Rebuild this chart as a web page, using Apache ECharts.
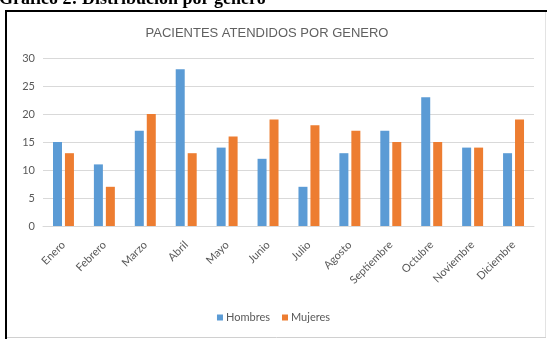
<!DOCTYPE html>
<html>
<head>
<meta charset="utf-8">
<script src="https://cdn.jsdelivr.net/npm/echarts@6/dist/echarts.min.js"></script>
<style>
  html, body { margin: 0; padding: 0; background: #ffffff; }
  #chart { width: 547px; height: 339px; }
</style>
</head>
<body>
<div id="chart"></div>
<script>
// Monthly patients seen, split by gender
const months = ['Enero', 'Febrero', 'Marzo', 'Abril', 'Mayo', 'Junio', 'Julio',
  'Agosto', 'Septiembre', 'Octubre', 'Noviembre', 'Diciembre'];
const hombres = [15, 11, 17, 28, 14, 12, 7, 13, 17, 23, 14, 13];
const mujeres = [13, 7, 20, 13, 16, 19, 18, 17, 15, 15, 14, 19];
const yTicks = [0, 5, 10, 15, 20, 25, 30];

const FONT = 'Lato';
const TEXT_GRAY = '#595959';

const chart = echarts.init(document.getElementById('chart'), null, { renderer: 'canvas' });

chart.setOption({
  animation: false,
  backgroundColor: '#ffffff',
  title: {
    text: 'PACIENTES ATENDIDOS POR GENERO',
    left: 262,
    textAlign: 'center',
    top: 22,
    textStyle: { fontFamily: 'Liberation Sans', fontSize: 13, fontWeight: 'normal', color: '#606060' }
  },
  legend: {
    data: ['Hombres', 'Mujeres'],
    left: 'center',
    top: 307,
    itemWidth: 6,
    itemHeight: 6,
    itemGap: 12,
    icon: 'rect',
    textStyle: { fontFamily: FONT, fontSize: 11, color: TEXT_GRAY, padding: [0, 0, 0, -2] }
  },
  grid: { left: 43, right: 13, top: 58, bottom: 113, containLabel: false },
  xAxis: {
    type: 'category',
    data: months,
    axisLine: { show: true, lineStyle: { color: '#d9d9d9', width: 1 } },
    axisTick: { show: false },
    axisLabel: {
      interval: 0,
      rotate: 45,
      margin: 17,
      fontFamily: FONT,
      fontSize: 11,
      color: TEXT_GRAY
    }
  },
  yAxis: {
    type: 'value',
    min: yTicks[0],
    max: yTicks[yTicks.length - 1],
    interval: 5,
    axisLine: { show: false },
    axisTick: { show: false },
    axisLabel: { margin: 8, fontFamily: FONT, fontSize: 11, color: TEXT_GRAY },
    splitLine: { lineStyle: { color: '#d9d9d9', width: 1 } }
  },
  series: [
    {
      name: 'Hombres',
      type: 'bar',
      data: hombres,
      barWidth: 9,
      barGap: '33%',
      itemStyle: { color: '#5b9bd5' }
    },
    {
      name: 'Mujeres',
      type: 'bar',
      data: mujeres,
      barWidth: 9,
      itemStyle: { color: '#ed7d31' }
    }
  ],
  graphic: [
    // Caption above the chart frame
    {
      type: 'text',
      left: -1,
      top: -10,
      style: {
        text: 'Gráfico 2: Distribución por género',
        font: 'bold 18px "Liberation Serif"',
        fill: '#000000'
      },
      z: 10
    },
    // Frame around the chart
    { type: 'line', shape: { x1: 6, y1: 11, x2: 547, y2: 11 }, style: { stroke: '#000000', lineWidth: 2 }, z: 10 },
    { type: 'line', shape: { x1: 6, y1: 10, x2: 6, y2: 339 }, style: { stroke: '#000000', lineWidth: 2 }, z: 10 },
    { type: 'line', shape: { x1: 545.5, y1: 12, x2: 545.5, y2: 338 }, style: { stroke: '#e3e3e3', lineWidth: 1 }, z: 10 },
    { type: 'line', shape: { x1: 7, y1: 337.5, x2: 546, y2: 337.5 }, style: { stroke: '#d0d0d0', lineWidth: 1 }, z: 10 }
  ]
});
</script>
</body>
</html>
